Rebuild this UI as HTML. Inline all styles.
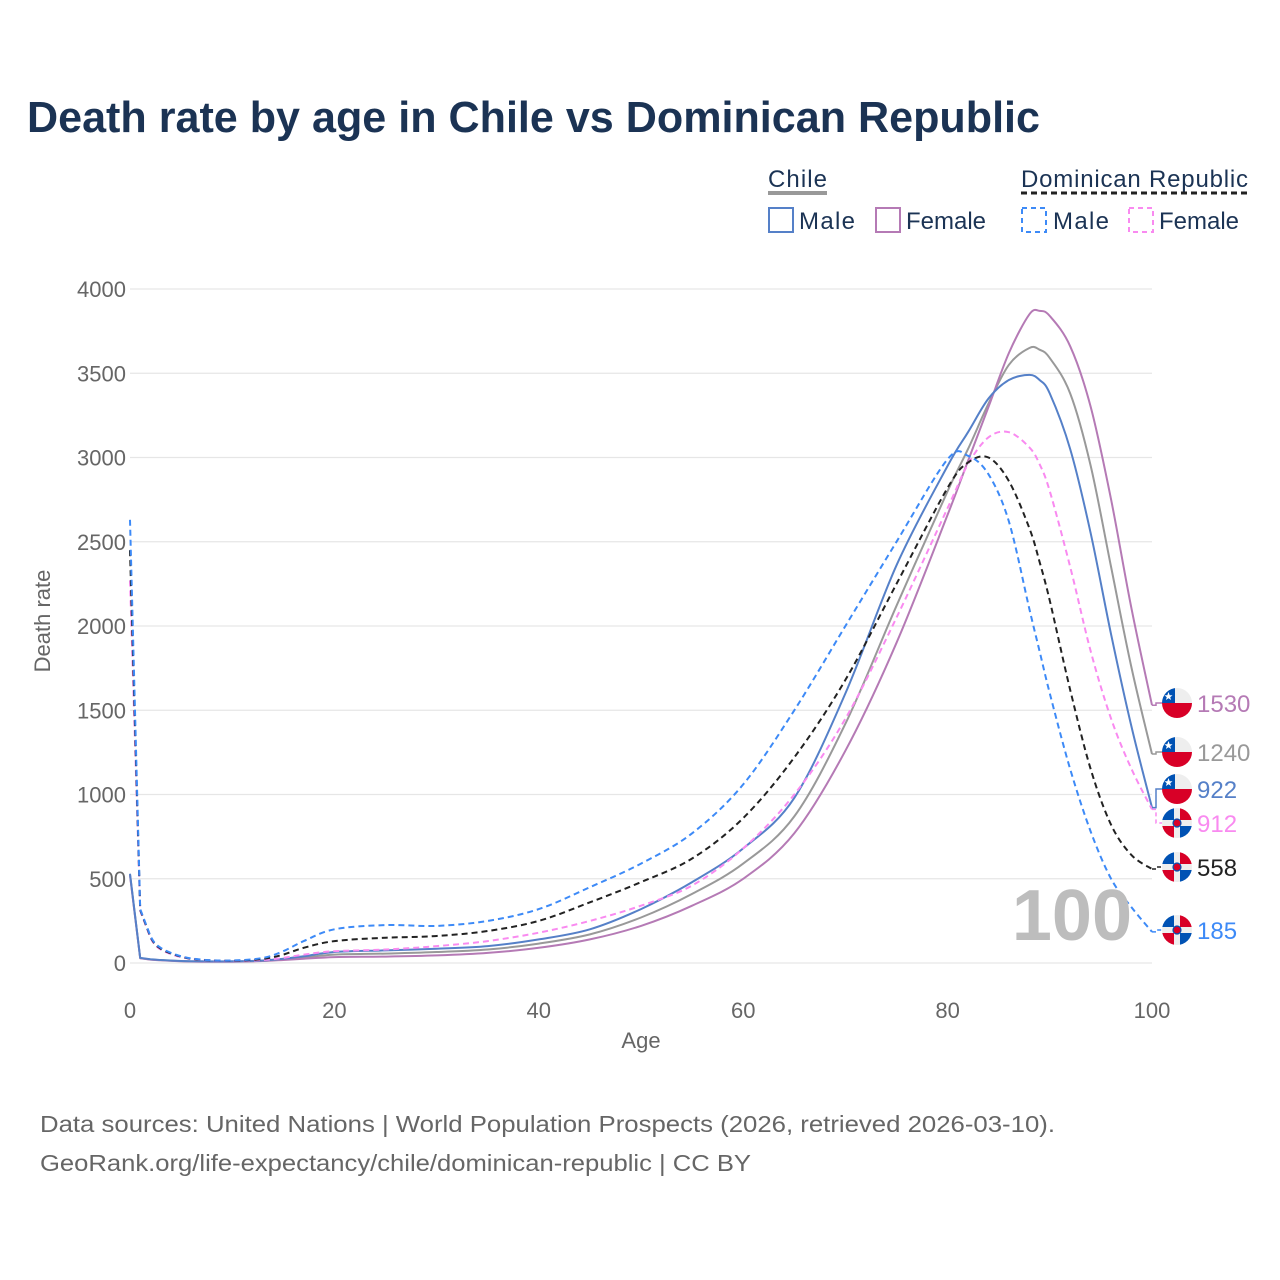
<!DOCTYPE html>
<html><head><meta charset="utf-8">
<style>
body{margin:0;background:#fff;font-family:"Liberation Sans",sans-serif;}
#wrap{position:relative;width:1280px;height:1280px;overflow:hidden;}
</style></head>
<body>
<div id="wrap">
<svg id="svg" width="1280" height="1280" xmlns="http://www.w3.org/2000/svg" font-family="Liberation Sans, sans-serif">
<text x="27" y="132" font-size="44" font-weight="bold" fill="#1b3354" textLength="1013" lengthAdjust="spacingAndGlyphs">Death rate by age in Chile vs Dominican Republic</text>
<g>
<text x="768" y="187" font-size="24" fill="#1b3354" textLength="59">Chile</text>
<line x1="768" y1="193" x2="827" y2="193" stroke="#999" stroke-width="4"/>
<text x="1021" y="187" font-size="24" fill="#1b3354" textLength="227">Dominican Republic</text>
<line x1="1021" y1="193" x2="1248" y2="193" stroke="#222" stroke-width="3" stroke-dasharray="6,4"/>
<rect x="769" y="208" width="24" height="24" fill="none" stroke="#5580c8" stroke-width="2"/>
<text x="799" y="229" font-size="24" fill="#1b3354" textLength="56">Male</text>
<rect x="876" y="208" width="24" height="24" fill="none" stroke="#b57ab5" stroke-width="2"/>
<text x="906" y="229" font-size="24" fill="#1b3354" textLength="80">Female</text>
<rect x="1022" y="208" width="24" height="24" fill="none" stroke="#3d8af7" stroke-width="2" stroke-dasharray="5,4"/>
<text x="1053" y="229" font-size="24" fill="#1b3354" textLength="56">Male</text>
<rect x="1129" y="208" width="24" height="24" fill="none" stroke="#f98af0" stroke-width="2" stroke-dasharray="5,4"/>
<text x="1159" y="229" font-size="24" fill="#1b3354" textLength="80">Female</text>
</g>
<g id="grid"></g>
<g id="series"></g>
<g id="ends"></g>
<text x="1132" y="940" font-size="72" font-weight="bold" fill="#bdbdbd" text-anchor="end">100</text>
<text x="641" y="1048" font-size="22" fill="#666" text-anchor="middle">Age</text>
<text transform="translate(50,621) rotate(-90)" font-size="22" fill="#666" text-anchor="middle">Death rate</text>
<text x="40" y="1132" font-size="23" fill="#666" textLength="1015" lengthAdjust="spacingAndGlyphs">Data sources: United Nations | World Population Prospects (2026, retrieved 2026-03-10).</text>
<text x="40" y="1171" font-size="23" fill="#666" textLength="711" lengthAdjust="spacingAndGlyphs">GeoRank.org/life-expectancy/chile/dominican-republic | CC BY</text>
</svg>
</div>
<script>
const ages = [0,1,2,3,5,7,10,13,15,17,20,25,30,35,40,45,50,55,60,65,70,75,80,82,84,86,88,89,90,92,94,96,98,100];
const chileMale   = [530,30,22,18,12,10,10,15,25,40,65,75,85,100,140,200,320,480,680,980,1600,2360,2950,3150,3350,3460,3490,3460,3380,3050,2550,1950,1400,922];
const chileFemale = [520,28,20,16,10,8,8,12,18,25,35,38,45,60,90,140,220,340,500,770,1260,1900,2660,2980,3300,3620,3850,3870,3840,3660,3300,2750,2100,1530];
const chileTotal  = [525,29,21,17,11,9,9,13,22,32,50,56,65,80,115,170,270,410,590,870,1420,2120,2800,3050,3320,3550,3650,3640,3590,3380,2950,2350,1750,1240];
const drMale   = [2630,320,160,90,40,20,15,30,70,130,200,225,220,250,320,450,590,770,1060,1500,2000,2500,2990,3010,2900,2620,2100,1850,1600,1150,780,500,330,185];
const drFemale = [2270,310,150,80,35,18,12,18,30,50,70,80,100,130,180,250,340,460,680,1000,1450,2050,2700,2960,3120,3150,3060,2960,2800,2350,1850,1450,1150,912];
const drTotal  = [2450,315,155,85,38,19,13,24,50,90,130,150,160,190,250,360,480,620,860,1220,1680,2250,2820,2970,3000,2860,2580,2380,2150,1620,1150,820,640,558];
const yTicks = [0,500,1000,1500,2000,2500,3000,3500,4000];
const xTicks = [0,20,40,60,80,100];
const endValues = [1530,1240,922,912,558,185];

const NS='http://www.w3.org/2000/svg';
const X = a => 130 + a*10.22;
const Y = v => 963 - v*0.1685;
function mk(tag, attrs, parent){const e=document.createElementNS(NS,tag);for(const k in attrs)e.setAttribute(k,attrs[k]);parent.appendChild(e);return e;}
function smoothPath(P){
  let d='M'+P[0][0].toFixed(1)+','+P[0][1].toFixed(1);
  for(let i=0;i<P.length-1;i++){
    const p0=P[i-1]||P[i], p1=P[i], p2=P[i+1], p3=P[i+2]||P[i+1];
    let t=(i<2)?0:1/6;
    const c1=[p1[0]+(p2[0]-p0[0])*t, p1[1]+(p2[1]-p0[1])*t];
    const c2=[p2[0]-(p3[0]-p1[0])*t, p2[1]-(p3[1]-p1[1])*t];
    d+=' C'+c1.map(v=>v.toFixed(1)).join(',')+' '+c2.map(v=>v.toFixed(1)).join(',')+' '+p2[0].toFixed(1)+','+p2[1].toFixed(1);
  }
  return d;
}
const grid=document.getElementById('grid');
yTicks.forEach(t=>{
  const l=mk('line',{x1:130,x2:1152,y1:Y(t),y2:Y(t),stroke:'#e6e6e6','stroke-width':1.2},grid);
  
  
  const tx=mk('text',{x:126,y:Y(t)+8,'font-size':22,fill:'#666','text-anchor':'end'},grid);
  tx.textContent=t;
  
  
});
xTicks.forEach(t=>{
  const tx=mk('text',{x:X(t),y:1018,'font-size':22,fill:'#666','text-anchor':'middle'},grid);
  tx.textContent=t;
  
  
});
const ser=document.getElementById('series');
const defs=[
 ['chile-total-line',chileTotal,'#999',''],
 ['chile-female-line',chileFemale,'#b57ab5',''],
 ['chile-male-line',chileMale,'#5580c8',''],
 ['dr-female-line',drFemale,'#f98af0','6,4'],
 ['dr-total-line',drTotal,'#222','6,4'],
 ['dr-male-line',drMale,'#3d8af7','6,4']
];
defs.forEach(d=>{
  const P=ages.map((a,i)=>[X(a),Y(d[1][i])]);
  const p=mk('path',{d:smoothPath(P),fill:'none',stroke:d[2],'stroke-width':2,'stroke-dasharray':d[3],'stroke-linejoin':'round'},ser);
  
  
});
const ends=document.getElementById('ends');
const endInfo=[
 [chileFemale,'#b57ab5','',703,'chile'],
 [chileTotal,'#999','',752,'chile'],
 [chileMale,'#5580c8','',789,'chile'],
 [drFemale,'#f98af0','4,3',823,'dr'],
 [drTotal,'#222','4,3',867,'dr'],
 [drMale,'#3d8af7','4,3',930,'dr']
];
endInfo.forEach((e,i)=>{
  const v=e[0][e[0].length-1];
  const yv=Y(v), yl=e[3];
  const c=mk('polyline',{points:`1152,${yv} 1156,${yv} 1156,${yl} 1164,${yl}`,fill:'none',stroke:e[1],'stroke-width':1.5,'stroke-dasharray':e[2]},ends);
  
  
  const g=mk('g',{transform:`translate(1177,${yl})`},ends);
  
  
  const cp='cp'+i;
  const clip=mk('clipPath',{id:cp},g); mk('circle',{r:15},clip);
  const inner=mk('g',{'clip-path':`url(#${cp})`},g);
  if(e[4]==='chile'){
    mk('rect',{x:-15,y:-15,width:30,height:15,fill:'#eee'},inner);
    mk('rect',{x:-15,y:0,width:30,height:15,fill:'#d80027'},inner);
    mk('rect',{x:-15,y:-15,width:13,height:15,fill:'#0052b4'},inner);
    mk('polygon',{points:'-8.5,-11 -7.3,-7.8 -4.5,-7.8 -6.8,-5.8 -5.9,-3 -8.5,-4.8 -11.1,-3 -10.2,-5.8 -12.5,-7.8 -9.7,-7.8',fill:'#fff'},inner);
  } else {
    mk('rect',{x:-15,y:-15,width:30,height:30,fill:'#eee'},inner);
    mk('rect',{x:-15,y:-15,width:12,height:12,fill:'#0052b4'},inner);
    mk('rect',{x:3,y:-15,width:12,height:12,fill:'#d80027'},inner);
    mk('rect',{x:-15,y:3,width:12,height:12,fill:'#d80027'},inner);
    mk('rect',{x:3,y:3,width:12,height:12,fill:'#0052b4'},inner);
    mk('circle',{r:4,fill:'#d80027',stroke:'#0052b4','stroke-width':1.2},inner);
  }
  const t=mk('text',{x:1197,y:yl+9,'font-size':24,fill:e[1]},ends);
  t.textContent=endValues[i];
  
  
});
</script>
</body></html>
